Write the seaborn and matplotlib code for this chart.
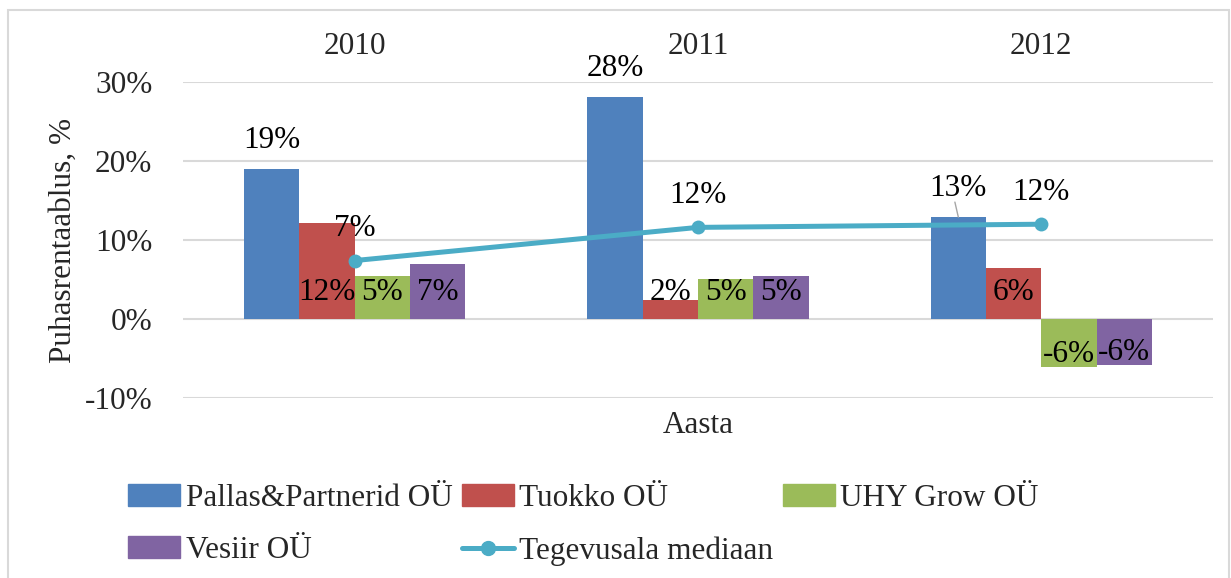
import pandas as pd
import matplotlib.pyplot as plt
import seaborn as sns
from matplotlib.patches import Patch, Rectangle
from matplotlib.lines import Line2D
from matplotlib.ticker import FuncFormatter

# Data (net profitability, %)
years = ["2010", "2011", "2012"]
companies = ["Pallas&Partnerid OÜ", "Tuokko OÜ", "UHY Grow OÜ", "Vesiir OÜ"]
pallas = [19.0, 28.1, 12.9]
tuokko = [12.2, 2.4, 6.4]
uhy = [5.4, 5.1, -6.1]
vesiir = [7.0, 5.4, -5.8]
median = [7.4, 11.6, 12.0]
median_label = "Tegevusala mediaan"

colors = ["#4F81BD", "#C0504D", "#9BBB59", "#8064A2"]
line_color = "#4BACC6"

sns.set_theme(style="white")
plt.rcParams["font.family"] = ["Liberation Serif", "DejaVu Serif"]
FS = 22.5

# Long-form table for seaborn
rows = []
for name, vals in zip(companies, [pallas, tuokko, uhy, vesiir]):
    for y, v in zip(years, vals):
        rows.append({"Aasta": y, "Ettevõte": name, "Väärtus": v})
df = pd.DataFrame(rows)

fig = plt.figure(figsize=(12.31, 5.78), dpi=100)
ax = fig.add_axes([0.1487, 0.3114, 0.8367, 0.5467])

sns.barplot(data=df, x="Aasta", y="Väärtus", hue="Ettevõte", order=years,
            hue_order=companies, palette=colors, saturation=1, width=0.645,
            linewidth=0, legend=False, ax=ax)

# median line on the same categorical positions
sns.lineplot(x=list(range(len(years))), y=median, color=line_color, lw=3.6,
             marker="o", markersize=10, markeredgewidth=0, ax=ax)

ax.set_ylim(-10, 30)
ax.set_xlim(-0.5, 2.5)
ax.set_yticks([-10, 0, 10, 20, 30])
ax.yaxis.set_major_formatter(FuncFormatter(lambda v, _: f"{v:.0f}%"))
ax.grid(axis="y", color="#D9D9D9", lw=1.5)
ax.set_axisbelow(True)
for s in ax.spines.values():
    s.set_visible(False)

ax.xaxis.tick_top()
ax.xaxis.set_label_position("bottom")
ax.tick_params(axis="x", length=0, pad=15, labelsize=FS)
ax.tick_params(axis="y", length=0, pad=22, labelsize=FS)
ax.set_xlabel("Aasta", fontsize=FS, labelpad=9)
ax.set_ylabel("Puhasrentaablus, %", fontsize=FS, labelpad=5)

# data labels: first series above the bar, others low inside
for k, (cont, vals) in enumerate(zip(ax.containers, [pallas, tuokko, uhy, vesiir])):
    for bar, v in zip(cont, vals):
        cx = bar.get_x() + bar.get_width() / 2
        if k == 0:
            ty = v + 3.6
        elif v > 0:
            ty = 3.3
        else:
            ty = v + 1.6
        ax.text(cx, ty, f"{round(v):.0f}%", ha="center", va="center",
                fontsize=FS, color="black")
for i, v in enumerate(median):
    ax.text(i, v + 4.0, f"{round(v):.0f}%", ha="center", va="center",
            fontsize=FS, color="black")

# leader line for the 2012 Pallas label
b = ax.containers[0][2]
bx = b.get_x() + b.get_width() / 2
ax.plot([bx - 0.01, bx], [14.8, 12.9], color="#A6A6A6", lw=1)

# legend in Excel row order
handles = [Patch(color=colors[0], label=companies[0]),
           Patch(color=colors[3], label=companies[3]),
           Patch(color=colors[1], label=companies[1]),
           Line2D([0], [0], color=line_color, lw=3.6, marker="o",
                  markersize=10, label=median_label),
           Patch(color=colors[2], label=companies[2])]
fig.legend(handles=handles, loc="center left", bbox_to_anchor=(0.0913, 0.092),
           ncol=3, frameon=False, fontsize=FS, handlelength=1.66,
           handletextpad=0.18, columnspacing=0.3, labelspacing=0.75,
           borderpad=0)

# light outer chart border
fig.patches.append(Rectangle((0.0065, -0.02), 0.992, 1.0027, fill=False,
                             edgecolor="#D9D9D9", lw=1.5,
                             transform=fig.transFigure, figure=fig))

fig.savefig("out.png", dpi=100)
